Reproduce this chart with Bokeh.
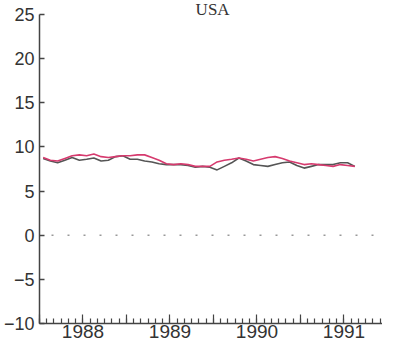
from bokeh.plotting import figure
from bokeh.models import FixedTicker, CustomJSTickFormatter, Span, Label, Range1d
from bokeh.embed import file_html
from bokeh.resources import INLINE

title_text = "USA"
start_year = 1988
n_months = 44
year_labels = [1988, 1989, 1990, 1991]
y_ticks = [-10, -5, 0, 5, 10, 15, 20, 25]

series_red = [8.8, 8.5, 8.4, 8.7, 9.0, 9.1, 9.0, 9.2, 8.9, 8.8, 8.9, 9.0,
              9.0, 9.1, 9.1, 8.8, 8.5, 8.1, 8.0, 8.1, 8.0, 7.8, 7.8, 7.8,
              8.3, 8.5, 8.6, 8.75, 8.6, 8.4, 8.6, 8.8, 8.9, 8.7, 8.4, 8.2,
              8.0, 8.1, 8.0, 7.9, 7.8, 8.0, 7.9, 7.8]
series_gray = [8.7, 8.4, 8.2, 8.5, 8.8, 8.5, 8.6, 8.75, 8.4, 8.5, 8.9, 9.0,
               8.6, 8.6, 8.4, 8.3, 8.1, 8.0, 8.0, 8.0, 7.9, 7.7, 7.8, 7.7,
               7.4, 7.8, 8.2, 8.75, 8.4, 8.0, 7.9, 7.8, 8.0, 8.2, 8.3, 7.9,
               7.6, 7.8, 8.0, 8.0, 8.0, 8.2, 8.2, 7.8]

t = [start_year + (m + 0.5) / 12 for m in range(n_months)]

p = figure(width=382, height=343, output_backend="svg", toolbar_location=None,
           x_range=Range1d(1988, 1991.943), y_range=Range1d(-10, 26.586),
           min_border_left=35, min_border_right=0, min_border_top=0,
           min_border_bottom=20)
p.outline_line_color = None
p.grid.visible = False
p.background_fill_color = "white"
p.border_fill_color = "white"

# axes
ya = p.yaxis[0]
ya.ticker = FixedTicker(ticks=y_ticks)
ya.bounds = (-10, 25)
ya.major_tick_in = 5
ya.major_tick_out = 0
ya.minor_tick_in = 0
ya.minor_tick_out = 0
ya.axis_line_color = "#444444"
ya.axis_line_width = 1.5
ya.major_tick_line_color = "#444444"
ya.major_tick_line_width = 1.5
ya.major_label_text_font = "Liberation Sans"
ya.major_label_text_font_size = "18px"
ya.major_label_text_color = "#333333"
ya.major_label_standoff = 5

half_years = [y + h for y in year_labels for h in (0, 0.5)] + [year_labels[-1] + 1]
months = [start_year + m / 12 for m in range(49)]
xa = p.xaxis[0]
xa.ticker = FixedTicker(ticks=half_years, minor_ticks=months)
xa.formatter = CustomJSTickFormatter(
    code="return (Math.abs(tick - Math.round(tick)) > 0.1) ? String(Math.floor(tick)) : '';")
xa.major_tick_in = 9
xa.major_tick_out = 0
xa.minor_tick_in = 5
xa.minor_tick_out = 0
xa.axis_line_color = "#444444"
xa.axis_line_width = 1.5
xa.major_tick_line_color = "#444444"
xa.minor_tick_line_color = "#444444"
xa.major_tick_line_width = 1.2
xa.minor_tick_line_width = 1.2
xa.major_label_text_font = "Liberation Sans"
xa.major_label_text_font_size = "19px"
xa.major_label_text_color = "#333333"
xa.major_label_standoff = 1

p.add_layout(Span(location=0, dimension="width", line_color="#999999",
                  line_width=1.5, line_dash="2 14", line_dash_offset=4))

p.line(t, series_gray, line_color="#555555", line_width=1.6)
p.line(t, series_red, line_color="#d63a6e", line_width=1.6)

p.add_layout(Label(x=1989.99, y=26.586, y_offset=1, text=title_text, text_align="center",
                   text_baseline="top", text_font="Liberation Serif",
                   text_font_size="17px", text_color="#333333"))

open("out.html", "w").write(file_html(p, INLINE))
